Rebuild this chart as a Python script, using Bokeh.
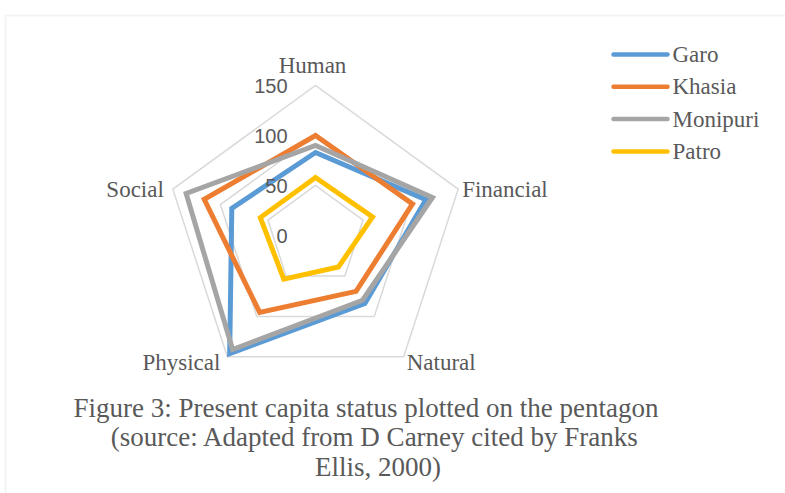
import numpy as np
from bokeh.plotting import figure
from bokeh.models import Range1d, BoxAnnotation
from bokeh.core.properties import value
from bokeh.embed import file_html
from bokeh.resources import INLINE

# ---------------- data ----------------
categories = ["Human", "Financial", "Natural", "Physical", "Social"]
garo = [83, 116, 84, 146, 88]
khasia = [100, 102, 69, 95, 117]
monipuri = [90, 123, 80, 141, 136]
patro = [58, 60, 39, 54, 58]
series_names = ["Garo", "Khasia", "Monipuri", "Patro"]
series_values = [garo, khasia, monipuri, patro]
series_colors = ["#5B9BD5", "#ED7D31", "#A5A5A5", "#FFC000"]
grid_levels = [50, 100, 150]
tick_values = [0, 50, 100, 150]
tick_labels = ["0", "50", "100", "150"]
caption_lines = [
    "Figure 3: Present capita status plotted on the pentagon",
    "(source: Adapted from D Carney cited by Franks",
    "Ellis, 2000)",
]

TEXT = "#595959"
GRID = "#D9D9D9"
R_MAX = 150

n = len(categories)
angles = np.pi / 2 - np.arange(n) * 2 * np.pi / n


def polar(vals):
    vals = np.asarray(vals, dtype=float)
    return vals * np.cos(angles), vals * np.sin(angles)


def closed(xs, ys):
    # close polygon and repeat the 2nd point so the start corner gets a proper join
    xs = list(xs) + list(xs[:2])
    ys = list(ys) + list(ys[:2])
    return xs, ys


p = figure(width=785, height=493, output_backend="svg", toolbar_location=None,
           x_range=Range1d(-315, 470), y_range=Range1d(-258, 235),
           min_border=0, outline_line_color=None, background_fill_color="white",
           border_fill_color="white")
p.xaxis.visible = False
p.yaxis.visible = False
p.grid.visible = False

# frame border of the figure box
p.add_layout(BoxAnnotation(left=-310, top=220, right=2000, bottom=-2000,
                           fill_alpha=0, line_color=GRID, line_width=2))

# grid pentagons
for lvl in grid_levels:
    gx, gy = polar([lvl] * n)
    gx, gy = closed(gx, gy)
    p.line(gx, gy, line_color=GRID, line_width=1.5, line_join="miter")

# series
for name, vals, col in zip(series_names, series_values, series_colors):
    sx, sy = polar(vals)
    sx, sy = closed(sx, sy)
    p.line(sx, sy, line_color=col, line_width=5, line_join="miter", line_cap="round")

# radial tick labels
p.text(x=[-28] * len(tick_values), y=tick_values, text=tick_labels,
       text_font=value("Liberation Sans"), text_font_size="20px",
       text_color=TEXT, text_align="right", text_baseline="middle")

# category labels
vx, vy = polar([R_MAX] * n)
offs = [(-3, 20), (4, 0), (3, -5.6), (-7, -5.6), (-9, 0)]
aligns = ["center", "left", "left", "right", "right"]
for i, cat in enumerate(categories):
    p.text(x=[vx[i] + offs[i][0]], y=[vy[i] + offs[i][1]], text=[cat],
           text_font=value("Liberation Serif"), text_font_size="23px",
           text_color=TEXT, text_align=aligns[i], text_baseline="alphabetic")

# caption
cap_x = [50.5, 59.5, 62.5]
cap_y = [-172.5, -201, -231]
p.text(x=cap_x, y=cap_y, text=caption_lines,
       text_font=value("Liberation Serif"), text_font_size="27px",
       text_color=TEXT, text_align="center", text_baseline="alphabetic")

# legend (drawn as swatch lines + labels)
leg_x0, leg_y0, leg_dy, leg_w = 298, 181, 32.3, 54
for i, (nm, col) in enumerate(zip(series_names, series_colors)):
    yy = leg_y0 - i * leg_dy
    p.line([leg_x0, leg_x0 + leg_w], [yy, yy], line_color=col, line_width=4.5, line_cap="round")
    p.text(x=[leg_x0 + leg_w + 5], y=[yy], text=[nm],
           text_font=value("Liberation Serif"), text_font_size="23px",
           text_color=TEXT, text_align="left", text_baseline="middle")

open("out.html", "w").write(file_html(p, INLINE))
